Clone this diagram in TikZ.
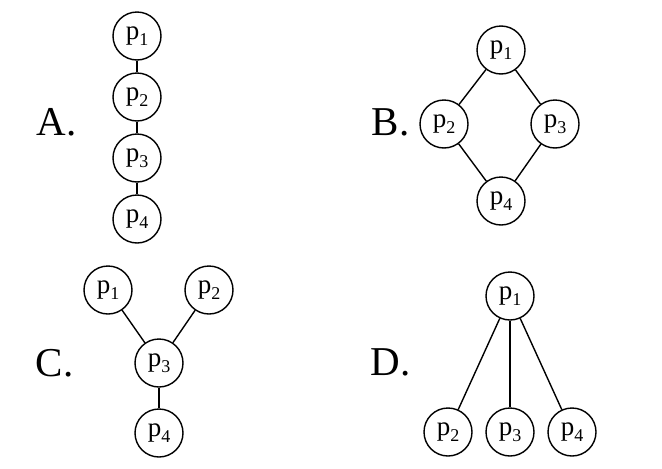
\documentclass[tikz,border=0pt]{standalone}
\usepackage{fontspec}
\setmainfont{Liberation Serif}
\newcommand{\pp}[1]{p\raisebox{-0.45ex}{\fontsize{18}{18}\selectfont #1}}
\tikzset{
  pnode/.style={draw,circle,minimum size=48pt,inner sep=0pt,line width=1.4pt,
    font=\fontsize{27}{27}\selectfont},
  optlabel/.style={anchor=base west,inner sep=0pt,font=\fontsize{41}{41}\selectfont},
}
\begin{document}
\begin{tikzpicture}[x=1pt,y=-1pt]
    \useasboundingbox (0,0) rectangle (662,469);
    \begin{scope}[line width=1.4pt]
% A
\node[optlabel] (labA) at (36,135) {A.};
\node[pnode] (a1) at (137,36) {\pp{1}};
\node[pnode] (a2) at (137,97) {\pp{2}};
\node[pnode] (a3) at (137,158) {\pp{3}};
\node[pnode] (a4) at (137,219) {\pp{4}};
\draw (a1) -- (a2);
\draw (a2) -- (a3);
\draw (a3) -- (a4);
% B
\node[optlabel] (labB) at (371,135) {B.};
\node[pnode] (b1) at (501,50) {\pp{1}};
\node[pnode] (b2) at (444,124) {\pp{2}};
\node[pnode] (b3) at (555,124) {\pp{3}};
\node[pnode] (b4) at (501,201) {\pp{4}};
\draw (b1) -- (b2);
\draw (b1) -- (b3);
\draw (b2) -- (b4);
\draw (b3) -- (b4);
% C
\node[optlabel] (labC) at (35,376) {C.};
\node[pnode] (c1) at (108,290) {\pp{1}};
\node[pnode] (c2) at (209,290) {\pp{2}};
\node[pnode] (c3) at (159,363) {\pp{3}};
\node[pnode] (c4) at (159,433) {\pp{4}};
\draw (c1) -- (c3);
\draw (c2) -- (c3);
\draw (c3) -- (c4);
% D
\node[optlabel] (labD) at (370,375) {D.};
\node[pnode] (d1) at (510,296) {\pp{1}};
\node[pnode] (d2) at (448,432) {\pp{2}};
\node[pnode] (d3) at (510,432) {\pp{3}};
\node[pnode] (d4) at (572,432) {\pp{4}};
\draw (d1) -- (d2);
\draw (d1) -- (d3);
\draw (d1) -- (d4);
\end{scope}
\end{tikzpicture}
\end{document}
